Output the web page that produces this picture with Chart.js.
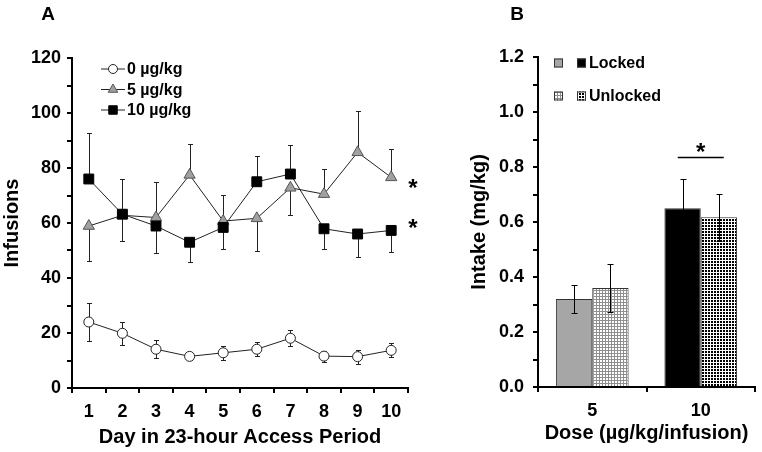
<!DOCTYPE html>
<html>
<head>
<meta charset="utf-8">
<script src="https://cdn.jsdelivr.net/npm/chart.js@4.4.1/dist/chart.umd.min.js"></script>
<style>
  html, body { margin: 0; padding: 0; background: #fff; }
  #wrap { position: relative; width: 762px; height: 452px; }
  #panelA { position: absolute; left: 0; top: 0; }
  #panelB { position: absolute; left: 420px; top: 0; }
</style>
</head>
<body>
<div id="wrap">
  <canvas id="panelA" width="420" height="452"></canvas>
  <canvas id="panelB" width="342" height="452"></canvas>
</div>
<script>
// Panel A: infusions per day (mean, one-sided SEM where series overlap)
const days = ['1', '2', '3', '4', '5', '6', '7', '8', '9', '10'];
const zeroMean = [24, 19.9, 14.1, 11.5, 12.8, 14.1, 18.1, 11.6, 11.4, 13.7];
const zeroSem = [6.8, 4.1, 3.2, 1.4, 2.6, 2.6, 3.0, 2.0, 2.5, 2.6];
const fiveMean = [58.9, 62.8, 62.0, 77.5, 60.7, 61.7, 72.8, 70.5, 85.7, 76.6];
const fiveErrUp = [0, 0, 12.9, 11.2, 9.5, 0, 0, 9.0, 15.1, 10.2];
const fiveErrDown = [12.6, 9.3, 0, 0, 0, 11.9, 10.0, 0, 0, 0];
const tenMean = [76.0, 63.2, 58.9, 53.0, 58.4, 75.0, 77.8, 57.9, 56.0, 57.3];
const tenErrUp = [16.6, 12.7, 0, 0, 0, 9.5, 10.4, 0, 0, 0];
const tenErrDown = [0, 0, 9.9, 7.2, 7.7, 0, 0, 7.5, 8.5, 7.7];
const seriesLabelsA = ['0 µg/kg', '5 µg/kg', '10 µg/kg'];

// Panel B: intake by dose
const doses = ['5', '10'];
const lockedIntake = [0.32, 0.65];
const lockedSem = [0.05, 0.107];
const unlockedIntake = [0.36, 0.617];
const unlockedSem = [0.088, 0.086];
const seriesLabelsB = ['Locked', 'Unlocked'];

const FONT = "'Liberation Sans', Arial, sans-serif";
const tickFont = { family: FONT, size: 18, weight: 'bold' };
const titleFont = { family: FONT, size: 20, weight: 'bold' };

function makePattern(ink, paper, inkIsBlock) {
  const tile = document.createElement('canvas');
  tile.width = 3; tile.height = 3;
  const t = tile.getContext('2d');
  t.fillStyle = paper;
  t.fillRect(0, 0, 3, 3);
  t.fillStyle = ink;
  if (inkIsBlock) {
    t.fillRect(0, 0, 2, 2);
  } else {
    t.fillRect(2, 0, 1, 3);
    t.fillRect(0, 2, 3, 1);
  }
  return document.createElement('canvas').getContext('2d').createPattern(tile, 'repeat');
}
const lightCheck = makePattern('#8f8f8f', '#ffffff', false);
const darkCheck = makePattern('#000000', '#ffffff', true);

function drawBar(ctx, x, yTop, yBot) {
  ctx.beginPath();
  ctx.moveTo(x, yTop); ctx.lineTo(x, yBot);
  ctx.stroke();
}
function drawCap(ctx, x, y, half) {
  ctx.beginPath();
  ctx.moveTo(x - half, y); ctx.lineTo(x + half, y);
  ctx.stroke();
}

const errorBarsA = {
  id: 'errorBarsA',
  beforeDatasetsDraw(chart) {
    const { ctx } = chart;
    const y = chart.scales.y;
    ctx.save();
    ctx.strokeStyle = '#222';
    ctx.lineWidth = 1;
    chart.data.datasets.forEach((ds, di) => {
      chart.getDatasetMeta(di).data.forEach((pt, i) => {
        const v = ds.data[i];
        const x = Math.round(pt.x) + 0.5;
        [[ds.errUp[i], 1], [ds.errDown[i], -1]].forEach(([e, s]) => {
          if (!e) return;
          const y1 = Math.round(y.getPixelForValue(v + s * e)) + 0.5;
          drawBar(ctx, x, y.getPixelForValue(v), y1);
          drawCap(ctx, x, y1, 2.5);
        });
      });
    });
    ctx.restore();
  }
};

const markersA = [
  { style: 'circle', radius: 4.5, fill: '#fff', stroke: '#222' },
  { style: 'triangle', radius: 5.5, fill: '#a0a0a0', stroke: '#555' },
  { style: 'rect', radius: 6, fill: '#000', stroke: '#000' }
];

const notesA = {
  id: 'notesA',
  afterDraw(chart) {
    const { ctx } = chart;
    const y = chart.scales.y;
    const right = chart.chartArea.right;
    ctx.save();
    ctx.fillStyle = '#000';
    ctx.font = `bold 19px ${FONT}`;
    ctx.textAlign = 'center';
    ctx.textBaseline = 'middle';
    ctx.fillText('A', 48, 15);

    // legend
    ctx.font = `bold 16px ${FONT}`;
    ctx.textAlign = 'left';
    seriesLabelsA.forEach((label, i) => {
      const ry = 69 + i * 20.5;
      const m = markersA[i];
      ctx.strokeStyle = '#222';
      ctx.lineWidth = 1;
      ctx.beginPath();
      ctx.moveTo(101, ry); ctx.lineTo(125, ry);
      ctx.stroke();
      ctx.fillStyle = m.fill;
      ctx.strokeStyle = m.stroke;
      Chart.helpers.drawPoint(ctx, { pointStyle: m.style, radius: m.radius, borderWidth: 1, rotation: 0 }, 113, ry);
      ctx.fillStyle = '#000';
      ctx.fillText(label, 127, ry + 1);
    });

    // significance marks
    ctx.font = `bold 24px ${FONT}`;
    ctx.textAlign = 'center';
    ctx.fillText('*', right + 5, y.getPixelForValue(fiveMean[9]) + 12);
    ctx.fillText('*', right + 5, y.getPixelForValue(tenMean[9]) - 1);
    ctx.restore();
  }
};

new Chart(document.getElementById('panelA'), {
  type: 'line',
  data: {
    labels: days,
    datasets: [
      {
        label: seriesLabelsA[0], data: zeroMean, errUp: zeroSem, errDown: zeroSem, order: 2,
        borderColor: '#222', borderWidth: 1, pointStyle: 'circle', pointRadius: 5,
        pointBackgroundColor: '#fff', pointBorderColor: '#222', pointBorderWidth: 1
      },
      {
        label: seriesLabelsA[1], data: fiveMean, errUp: fiveErrUp, errDown: fiveErrDown, order: 1,
        borderColor: '#222', borderWidth: 1, pointStyle: 'triangle', pointRadius: 6.5,
        pointBackgroundColor: '#a0a0a0', pointBorderColor: '#555', pointBorderWidth: 1
      },
      {
        label: seriesLabelsA[2], data: tenMean, errUp: tenErrUp, errDown: tenErrDown, order: 0,
        borderColor: '#222', borderWidth: 1, pointStyle: 'rect', pointRadius: 7,
        pointBackgroundColor: '#000', pointBorderColor: '#000', pointBorderWidth: 1
      }
    ]
  },
  options: {
    responsive: false,
    animation: false,
    layout: { padding: { left: 0, top: 58, right: 12, bottom: 0 } },
    plugins: { legend: { display: false }, tooltip: { enabled: false } },
    scales: {
      x: {
        offset: true,
        afterFit: (s) => { s.height = 64; },
        grid: { offset: true, drawOnChartArea: false, color: '#000', lineWidth: 2, tickLength: 5 },
        border: { color: '#000', width: 2 },
        ticks: { color: '#000', font: tickFont, padding: 8, maxRotation: 0 },
        title: { display: true, text: 'Day in 23-hour Access Period', color: '#000', font: titleFont, padding: { top: 0, bottom: 3 } }
      },
      y: {
        min: 0, max: 120,
        afterFit: (s) => { s.width = 72; },
        grid: { drawOnChartArea: false, color: '#000', lineWidth: 2, tickLength: 5 },
        border: { color: '#000', width: 2 },
        ticks: { stepSize: 10, color: '#000', font: tickFont, padding: 6, callback: (v) => (v % 20 === 0 ? v : '') },
        title: { display: true, text: 'Infusions', color: '#000', font: titleFont, padding: 0 }
      }
    }
  },
  plugins: [errorBarsA, notesA]
});

const errorBarsB = {
  id: 'errorBarsB',
  afterDatasetsDraw(chart) {
    const { ctx } = chart;
    const y = chart.scales.y;
    ctx.save();
    ctx.strokeStyle = '#000';
    ctx.lineWidth = 1;
    chart.data.datasets.forEach((ds, di) => {
      chart.getDatasetMeta(di).data.forEach((bar, i) => {
        const v = ds.data[i], e = ds.sem[i];
        const x = Math.round(bar.x) + 0.5;
        const yt = Math.round(y.getPixelForValue(v + e)) + 0.5;
        const yb = Math.round(y.getPixelForValue(v - e)) + 0.5;
        drawBar(ctx, x, yt, yb);
        drawCap(ctx, x, yt, 3);
        drawCap(ctx, x, yb, 3);
      });
    });
    ctx.restore();
  }
};

const notesB = {
  id: 'notesB',
  afterDraw(chart) {
    const { ctx } = chart;
    const x = chart.scales.x, y = chart.scales.y;
    ctx.save();
    ctx.fillStyle = '#000';
    ctx.font = `bold 19px ${FONT}`;
    ctx.textAlign = 'center';
    ctx.textBaseline = 'middle';
    ctx.fillText('B', 97, 15);

    // legend swatches: dose 5 then dose 10 for each series
    const swatches = [['#a6a6a6', '#000'], [lightCheck, darkCheck]];
    ctx.font = `bold 16px ${FONT}`;
    ctx.textAlign = 'left';
    seriesLabelsB.forEach((label, i) => {
      const ry = 63 + i * 33;
      swatches[i].forEach((fill, j) => {
        const sx = 134 + j * 23;
        ctx.fillStyle = fill;
        ctx.fillRect(sx, ry - 4.5, 9, 9);
        ctx.strokeStyle = '#333';
        ctx.lineWidth = 1;
        ctx.strokeRect(sx + 0.5, ry - 4, 8, 8);
      });
      ctx.fillStyle = '#000';
      ctx.fillText(label, 169, ry + 1);
    });

    // significance over the 10 µg/kg pair
    const cx = x.getPixelForValue(1);
    const ly = Math.round(y.getPixelForValue(0.835)) + 0.5;
    ctx.strokeStyle = '#000';
    ctx.lineWidth = 1.5;
    ctx.beginPath();
    ctx.moveTo(cx - 23, ly); ctx.lineTo(cx + 23, ly);
    ctx.stroke();
    ctx.font = `bold 24px ${FONT}`;
    ctx.textAlign = 'center';
    ctx.fillText('*', cx, ly - 4);
    ctx.restore();
  }
};

new Chart(document.getElementById('panelB'), {
  type: 'bar',
  data: {
    labels: doses,
    datasets: [
      {
        label: seriesLabelsB[0], data: lockedIntake, sem: lockedSem,
        backgroundColor: ['#a6a6a6', '#000000'], borderColor: '#333', borderWidth: 1,
        categoryPercentage: 0.67, barPercentage: 1
      },
      {
        label: seriesLabelsB[1], data: unlockedIntake, sem: unlockedSem,
        backgroundColor: [lightCheck, darkCheck], borderColor: '#333', borderWidth: 1,
        categoryPercentage: 0.67, barPercentage: 1
      }
    ]
  },
  options: {
    responsive: false,
    animation: false,
    layout: { padding: { left: 47, top: 57, right: 7, bottom: 0 } },
    plugins: { legend: { display: false }, tooltip: { enabled: false } },
    scales: {
      x: {
        afterFit: (s) => { s.height = 65; },
        grid: { offset: true, drawOnChartArea: false, color: '#000', lineWidth: 2, tickLength: 5 },
        border: { color: '#000', width: 2 },
        ticks: { color: '#000', font: tickFont, padding: 8, maxRotation: 0 },
        title: { display: true, text: 'Dose (µg/kg/infusion)', color: '#000', font: titleFont, padding: { top: 0, bottom: 7 } }
      },
      y: {
        min: 0, max: 1.2,
        afterFit: (s) => { s.width = 71; },
        grid: { drawOnChartArea: false, color: '#000', lineWidth: 2, tickLength: 5 },
        border: { color: '#000', width: 2 },
        ticks: { stepSize: 0.1, color: '#000', font: tickFont, padding: 9,
          callback: (v) => (Math.round(v * 10) % 2 === 0 ? v.toFixed(1) : '') },
        title: { display: true, text: 'Intake (mg/kg)', color: '#000', font: titleFont, padding: 0 }
      }
    }
  },
  plugins: [errorBarsB, notesB]
});
</script>
</body>
</html>
